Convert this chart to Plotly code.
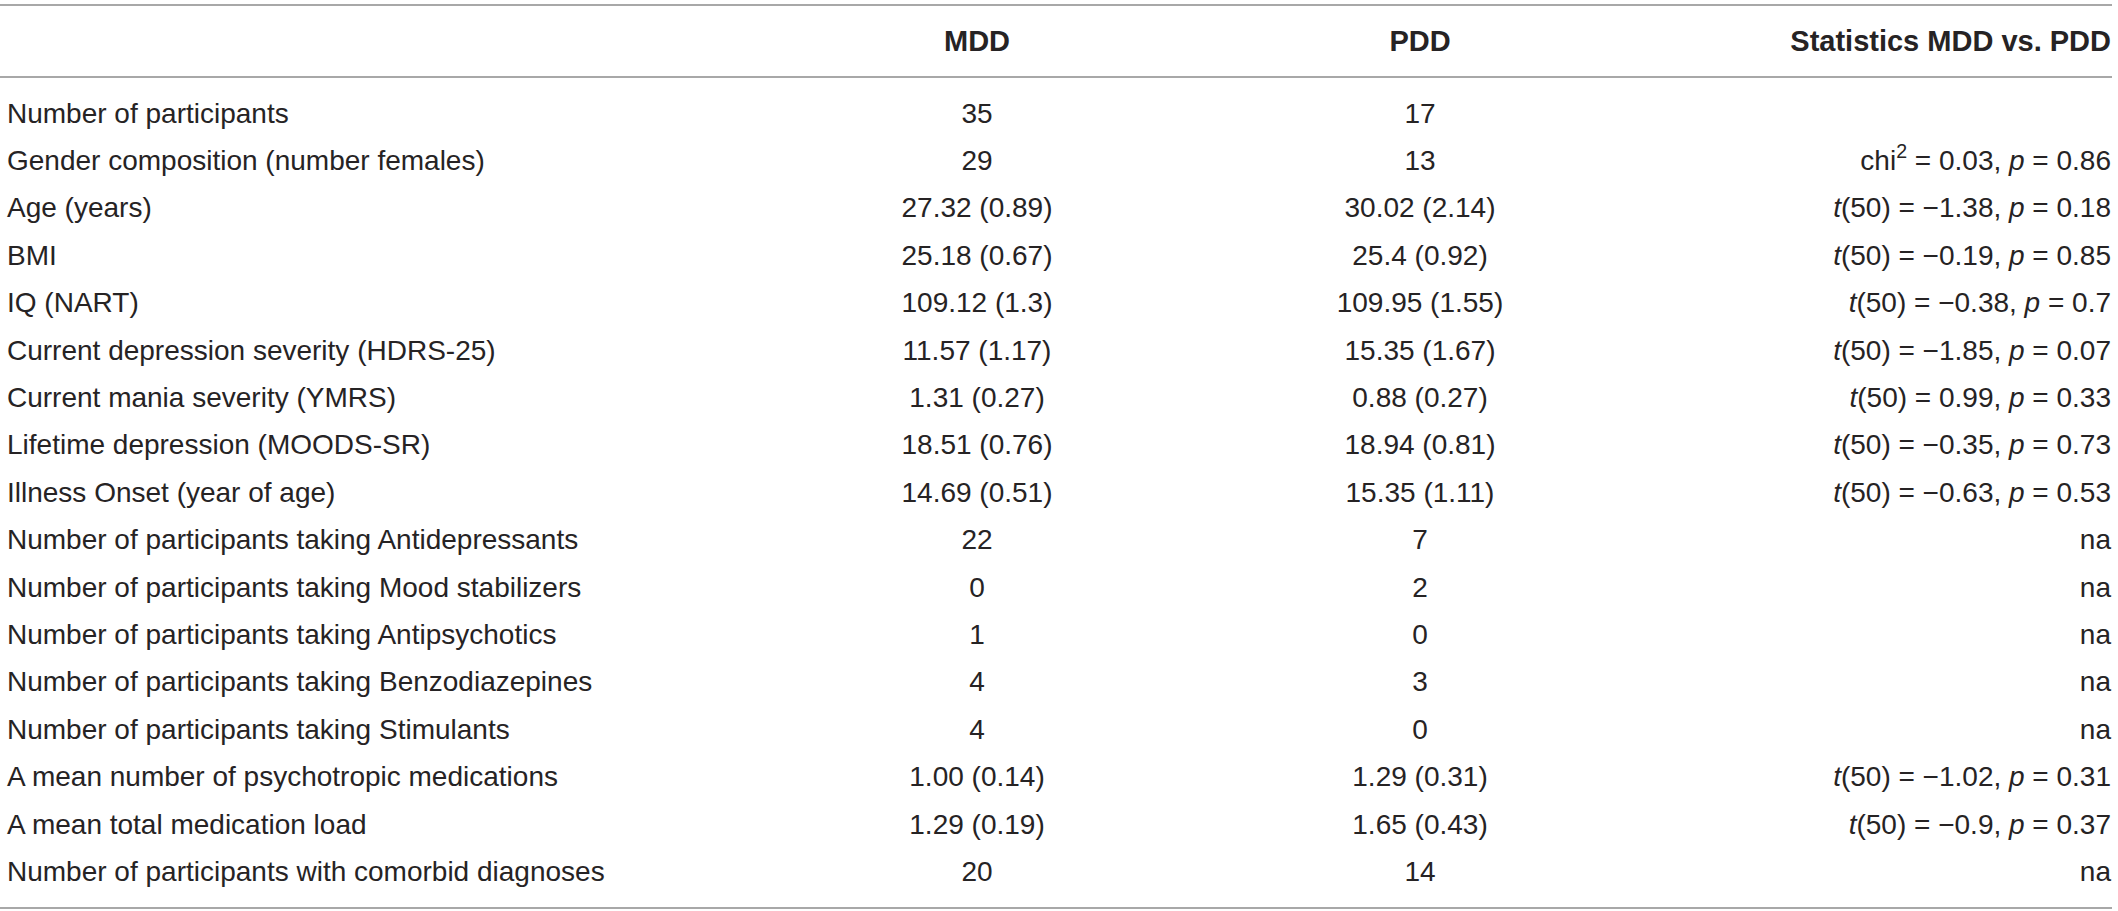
"""
Demographic / clinical table (MDD vs. PDD) drawn as a plotly figure.
Text cells are scatter text marks on a pixel-scaled axis; rules are shapes.
"""
import plotly.graph_objects as go

W, H = 2118, 911

headers = ["", "MDD", "PDD", "Statistics MDD vs. PDD"]

row_labels = [
    "Number of participants",
    "Gender composition (number females)",
    "Age (years)",
    "BMI",
    "IQ (NART)",
    "Current depression severity (HDRS-25)",
    "Current mania severity (YMRS)",
    "Lifetime depression (MOODS-SR)",
    "Illness Onset (year of age)",
    "Number of participants taking Antidepressants",
    "Number of participants taking Mood stabilizers",
    "Number of participants taking Antipsychotics",
    "Number of participants taking Benzodiazepines",
    "Number of participants taking Stimulants",
    "A mean number of psychotropic medications",
    "A mean total medication load",
    "Number of participants with comorbid diagnoses",
]

mdd = [
    "35", "29", "27.32 (0.89)", "25.18 (0.67)", "109.12 (1.3)", "11.57 (1.17)",
    "1.31 (0.27)", "18.51 (0.76)", "14.69 (0.51)", "22", "0", "1", "4", "4",
    "1.00 (0.14)", "1.29 (0.19)", "20",
]

pdd = [
    "17", "13", "30.02 (2.14)", "25.4 (0.92)", "109.95 (1.55)", "15.35 (1.67)",
    "0.88 (0.27)", "18.94 (0.81)", "15.35 (1.11)", "7", "2", "0", "3", "0",
    "1.29 (0.31)", "1.65 (0.43)", "14",
]

# first row has no statistic (None = empty cell)
stats = [
    None,
    "chi<sup>2</sup> = 0.03, <i>p</i> = 0.86",
    "<i>t</i>(50) = \u22121.38, <i>p</i> = 0.18",
    "<i>t</i>(50) = \u22120.19, <i>p</i> = 0.85",
    "<i>t</i>(50) = \u22120.38, <i>p</i> = 0.7",
    "<i>t</i>(50) = \u22121.85, <i>p</i> = 0.07",
    "<i>t</i>(50) = 0.99, <i>p</i> = 0.33",
    "<i>t</i>(50) = \u22120.35, <i>p</i> = 0.73",
    "<i>t</i>(50) = \u22120.63, <i>p</i> = 0.53",
    "na", "na", "na", "na", "na",
    "<i>t</i>(50) = \u22121.02, <i>p</i> = 0.31",
    "<i>t</i>(50) = \u22120.9, <i>p</i> = 0.37",
    "na",
]

# layout in pixels
FONT = "Liberation Sans, Arial, Helvetica, sans-serif"
TXT = "#262324"
RULE = "#a8a8a8"
n = len(row_labels)
row_y = [115.5 + 47.4 * i for i in range(n)]
head_y = 43.5
col_x = [7, 977, 1420, 2111]
col_pos = ["middle right", "middle center", "middle center", "middle left"]

fig = go.Figure()

# body columns (skip empty cells)
for col, x, pos in zip([row_labels, mdd, pdd, stats], col_x, col_pos):
    ys = [y for y, t in zip(row_y, col) if t]
    ts = [t for t in col if t]
    fig.add_trace(go.Scatter(
        x=[x] * len(ts), y=ys, text=ts, mode="text", textposition=pos,
        textfont=dict(family=FONT, size=28, color=TXT),
        cliponaxis=False, hoverinfo="skip", showlegend=False,
    ))

# header row
fig.add_trace(go.Scatter(
    x=col_x[1:], y=[head_y] * 3, text=[f"<b>{h}</b>" for h in headers[1:]],
    mode="text", textposition=col_pos[1:],
    textfont=dict(family=FONT, size=29, color=TXT),
    cliponaxis=False, hoverinfo="skip", showlegend=False,
))

# horizontal rules
for yy in [5, 77, 908]:
    fig.add_shape(type="line", x0=0, x1=2112, y0=yy, y1=yy,
                  xref="x", yref="y", line=dict(color=RULE, width=2))

fig.update_layout(
    width=W, height=H,
    margin=dict(l=0, r=0, t=0, b=0),
    paper_bgcolor="white", plot_bgcolor="white",
    xaxis=dict(range=[0, W], visible=False, fixedrange=True),
    yaxis=dict(range=[H, 0], visible=False, fixedrange=True),
)

# drop the default body margin so the figure sits flush in the window
fig.write_html("out.html", config={"displayModeBar": False},
               post_script="document.body.style.margin='0';")
